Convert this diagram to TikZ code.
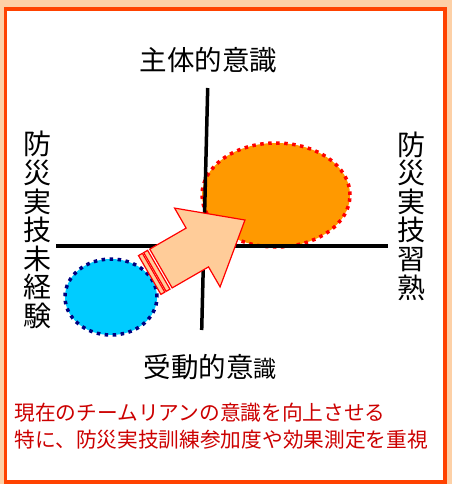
\documentclass[tikz,border=0pt]{standalone}
\usepackage{fontspec}
\setmainfont{Noto Sans CJK JP}
\usetikzlibrary{shapes.geometric}
\definecolor{peach}{RGB}{253,208,166}
\definecolor{framered}{RGB}{255,66,0}
\definecolor{skillorange}{RGB}{255,153,0}
\definecolor{novicecyan}{RGB}{0,204,255}
\definecolor{textred}{RGB}{204,0,0}
\definecolor{arrowfill}{RGB}{255,204,153}
\begin{document}
\begin{tikzpicture}[x=1pt,y=-1pt,
  axis/.style={line width=3.5pt,black},
  grp/.style n args={4}{ellipse,fill=#1,draw=#2,line width=3.5pt,dash pattern=on 3.5pt off 4.5pt,minimum width=#3,minimum height=#4,inner sep=0pt},
  arrowbody/.style={fill=arrowfill,draw=red,line width=1.2pt,line join=miter},
  axlbl/.style={font=\fontsize{27.5}{27.5}\selectfont},
  vlbl/.style={align=center,font=\fontsize{28}{28.6}\selectfont}]
\useasboundingbox (0,0) rectangle (452,484);
\fill[peach] (0,0) rectangle (452,484);
\draw[framered,line width=3.5pt,fill=white] (5.5,9) rectangle (445,482);
% the two groups
\node[grp={skillorange}{red}{148pt}{104pt}] (skilled) at (276,195) {};
\node[grp={novicecyan}{blue!50!black}{92pt}{76pt}] (novice) at (111,297) {};
% axes
\coordinate (ytop) at (207.7,88);
\coordinate (ybot) at (201.7,330);
\coordinate (xleft) at (56,246);
\coordinate (xright) at (388,246);
\draw[axis] (ytop) -- (ybot);
\draw[axis] (xleft) -- (xright);
% striped block arrow
\begin{scope}[shift={(149.7,275)},rotate=30]
  \foreach \s in {0,6} {
    \draw[arrowbody] (\s,-22.4) rectangle +(4.5,44.8);
  }
  \draw[arrowbody] (13,-22.4) -- (55,-22.4) -- (55,-45.5) -- (110,0)
    -- (55,45.5) -- (55,22.4) -- (13,22.4) -- cycle;
\end{scope}
% labels
\node[axlbl] (active) at (208.5,60) {主体的意識};
\node[axlbl] (passive) at (210,367) {受動的意{\fontsize{23}{23}\selectfont 識}};
\node[vlbl] (inexp) at (37,230) {防\\災\\実\\技\\未\\経\\験};
\node[vlbl] (mastery) at (411.5,216) {防\\災\\実\\技\\習\\熟};
\node[anchor=west,align=left,text=textred,font=\fontsize{20.7}{27}\selectfont] (goal) at (11,426.5)
  {現在のチームリアンの意識を向上させる\\特に、防災実技訓練参加度や効果測定を重視};
\end{tikzpicture}
\end{document}
